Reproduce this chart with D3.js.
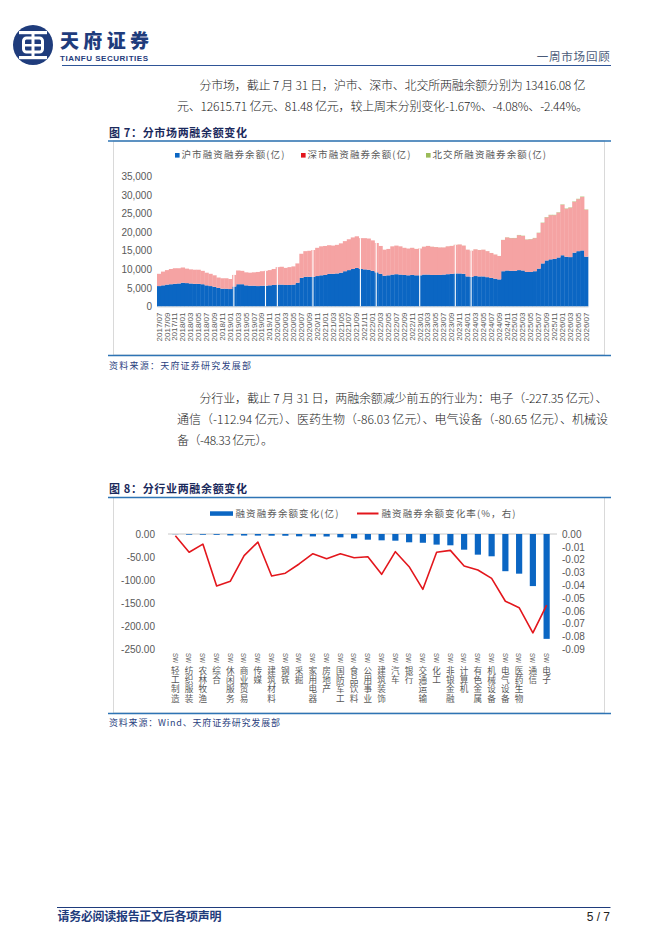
<!DOCTYPE html>
<html>
<head>
<meta charset="utf-8">
<script src="https://cdn.jsdelivr.net/npm/d3@7"></script>
<style>
  body { margin: 0; background: #fff; }
  svg { display: block; }
  text { font-family: 'Noto Sans CJK SC', 'Noto Sans', sans-serif; }
  .num { font-family: 'Liberation Sans', Arial, sans-serif; }
</style>
</head>
<body>
<svg id="page" width="662" height="936"></svg>
<script>
// ---- Figure 7: margin balance by exchange (monthly, 亿元) ----
const monthKeys = d3.utcMonth
  .range(new Date(Date.UTC(2017, 6, 1)), new Date(Date.UTC(2026, 7, 1)))
  .map(d3.utcFormat('%Y/%m'));

// 沪市融资融券余额
const shBalance = [
  5500, 5700, 5900, 6000, 6100, 6200,
  6400, 6300, 6200, 6100, 6100, 6000, 5700, 5500, 5300, 5000, 4800, 4800,
  4700, 5400, 6000, 6000, 5700, 5600, 5600, 5500, 5600, 5600, 5700, 5800,
  5900, 5900, 5800, 5800, 5900, 6400, 7700, 8000, 8000, 8000, 8200, 8400,
  8500, 8800, 8800, 8900, 9100, 9500, 9800, 10100, 10400, 10100, 10000, 9900,
  9600, 9200, 8800, 8300, 8400, 8600, 8700, 8600, 8500, 8400, 8500, 8400,
  8400, 8600, 8600, 8500, 8500, 8500, 8600, 8700, 8800, 8900, 8900, 8800,
  8100, 8000, 8200, 8100, 8100, 7900, 7700, 7500, 7300, 9500, 9700, 9600,
  9600, 9800, 9700, 9300, 9300, 9500, 10200, 11600, 12400, 12700, 12800, 13200,
  13800, 13400, 13300, 14500, 14900, 15100, 13416.08
];
// 深市融资融券余额
const szBalance = [
  3300, 3700, 3900, 4100, 4200, 4100,
  4100, 3900, 3800, 3800, 3800, 3600, 3400, 3300, 3100, 2800, 2800, 2800,
  2700, 3100, 3700, 3600, 3500, 3500, 3600, 3800, 3900, 4000, 4100, 4300,
  4700, 4800, 4600, 4800, 4900, 5200, 6500, 6900, 7000, 7200, 7600, 7800,
  7800, 7700, 7600, 7700, 7900, 8100, 8300, 8500, 8500, 8300, 8400, 8400,
  8200, 7900, 7500, 7000, 7100, 7600, 7700, 7600, 7300, 7200, 7300, 7100,
  7200, 7500, 7700, 7600, 7500, 7400, 7300, 7500, 7500, 7700, 7800, 7600,
  7200, 7000, 7200, 7100, 7200, 7000, 6700, 6500, 6300, 8400, 8900, 8800,
  8800, 9400, 9300, 8700, 8800, 8900, 9600, 10900, 11600, 11900, 11800, 12100,
  13600, 12900, 13300, 13700, 14000, 14400, 12615.71
];
// 北交所融资融券余额
const bjBalance = [
  0, 0, 0, 0, 0, 0,
  0, 0, 0, 0, 0, 0, 0, 0, 0, 0, 0, 0,
  0, 0, 0, 0, 0, 0, 0, 0, 0, 0, 0, 0,
  0, 0, 0, 0, 0, 0, 0, 0, 0, 0, 0, 0,
  0, 0, 0, 0, 0, 0, 0, 0, 0, 0, 0, 0,
  0, 0, 0, 0, 0, 0, 0, 0, 5, 6, 7, 8,
  9, 10, 11, 12, 12, 13, 13, 14, 14, 15, 15, 15,
  13, 12, 13, 13, 13, 13, 12, 12, 11, 30, 45, 50,
  55, 60, 62, 58, 60, 62, 65, 72, 78, 80, 80, 82,
  88, 85, 86, 90, 92, 95, 81.48
];
// weeks with no trading (holidays) that show as white gaps
const holidayGaps = ['2019/02', '2019/10', '2020/01', '2020/10', '2021/10', '2022/02', '2023/01', '2023/10', '2024/02'];

const seriesNames7 = ['沪市融资融券余额(亿)', '深市融资融券余额(亿)', '北交所融资融券余额(亿)'];

// ---- Figure 8: margin balance change by industry ----
const industries = [
  'SW轻工制造', 'SW纺织服装', 'SW农林牧渔', 'SW综合', 'SW休闲服务', 'SW商业贸易', 'SW传媒',
  'SW建筑材料', 'SW钢铁', 'SW采掘', 'SW家用电器', 'SW房地产', 'SW国防军工', 'SW食品饮料',
  'SW公用事业', 'SW建筑装饰', 'SW汽车', 'SW银行', 'SW交通运输', 'SW化工', 'SW非银金融',
  'SW计算机', 'SW有色金属', 'SW机械设备', 'SW电气设备', 'SW医药生物', 'SW通信', 'SW电子'
];
const balanceChange = [
  -0.4, -1.5, -1.6, -1.8, -3.2, -3.4, -3.5,
  -3.7, -3.8, -5.0, -5.2, -5.4, -7.2, -9.6,
  -12.3, -13.7, -14.5, -18.0, -19.0, -23.0, -24.5,
  -34.0, -44.8, -48.33, -80.65, -86.03, -112.94, -227.35
];
const changeRate = [
  -0.0013, -0.0142, -0.0079, -0.0405, -0.0368, -0.0169, -0.0063,
  -0.0328, -0.0306, -0.0234, -0.0154, -0.0193, -0.0154, -0.0185,
  -0.0177, -0.0315, -0.0138, -0.0255, -0.0432, -0.0143, -0.0128,
  -0.0250, -0.0281, -0.0346, -0.0525, -0.0575, -0.0772, -0.0556
];
const seriesNames8 = ['融资融券余额变化(亿)', '融资融券余额变化率(%，右)'];

const NAVY = '#1f3c7c';
const RULE = '#2e74b5';
const FRAME = '#d9d9d9';
const AXIS_TEXT = '#595959';
const BLUE = '#0b66c3';
const PINK = '#f5a3a3';
const RED = '#e3161c';
const GREEN = '#9bbb59';

const fmt = d3.formatLocale({ decimal: '.', thousands: ',', grouping: [3], currency: ['', ''], minus: '-' });

const svg = d3.select('#page');

// ---------- page header ----------
const logo = svg.append('g');
logo.append('circle').attr('cx', 33).attr('cy', 45).attr('r', 20).attr('fill', NAVY);
logo.append('rect').attr('x', 19).attr('y', 31).attr('width', 28).attr('height', 3.2).attr('fill', '#fff');
logo.append('rect').attr('x', 19).attr('y', 56).attr('width', 28).attr('height', 3.2).attr('fill', '#fff');
logo.append('rect').attr('x', 23.5).attr('y', 38).attr('width', 19).attr('height', 14)
  .attr('rx', 3).attr('fill', 'none').attr('stroke', '#fff').attr('stroke-width', 3);
logo.append('rect').attr('x', 31.5).attr('y', 34).attr('width', 3).attr('height', 22).attr('fill', '#fff');
logo.append('rect').attr('x', 23.5).attr('y', 44).attr('width', 19).attr('height', 2.5).attr('fill', '#fff');

svg.append('text').attr('x', 60).attr('y', 47.5).attr('font-size', 19).attr('font-weight', 900)
  .attr('fill', NAVY).attr('textLength', 89).text('天府证券');
svg.append('text').attr('class', 'num').attr('x', 60).attr('y', 60.5).attr('font-size', 8)
  .attr('font-weight', 700).attr('fill', NAVY).attr('textLength', 88).text('TIANFU SECURITIES');
svg.append('text').attr('x', 610.5).attr('y', 61).attr('text-anchor', 'end').attr('font-size', 11.5)
  .attr('fill', '#4a5a78').attr('letter-spacing', 0.8).text('一周市场回顾');
svg.append('line').attr('x1', 62).attr('x2', 611).attr('y1', 65.5).attr('y2', 65.5)
  .attr('stroke', '#2f5597').attr('stroke-width', 1.2);

function paragraph(lines) {
  lines.forEach(([txt, x, y, len]) => {
    svg.append('text').attr('x', x).attr('y', y).attr('font-size', 12).attr('font-weight', 300)
      .attr('fill', '#222').attr('textLength', len).attr('lengthAdjust', 'spacing').text(txt);
  });
}

paragraph([
  ['分市场，截止 7 月 31 日，沪市、深市、北交所两融余额分别为 13416.08 亿', 199.5, 90, 386],
  ['元、12615.71 亿元、81.48 亿元，较上周末分别变化-1.67%、-4.08%、-2.44%。', 177, 111, 411],
]);

function figureTitle(txt, y, len) {
  svg.append('text').attr('x', 109).attr('y', y).attr('font-size', 11).attr('font-weight', 700)
    .attr('fill', '#1b2a5c').attr('textLength', len).attr('lengthAdjust', 'spacing').text(txt);
}

function frame(top, bottom) {
  svg.append('rect').attr('x', 113.5).attr('y', top).attr('width', 491).attr('height', bottom - top)
    .attr('fill', 'none').attr('stroke', FRAME).attr('stroke-width', 1);
  svg.append('line').attr('x1', 108).attr('x2', 611).attr('y1', top).attr('y2', top)
    .attr('stroke', RULE).attr('stroke-width', 1.5);
  svg.append('line').attr('x1', 108).attr('x2', 611).attr('y1', bottom + 0.5).attr('y2', bottom + 0.5)
    .attr('stroke', RULE).attr('stroke-width', 1.5);
}

function source(txt, y, len) {
  svg.append('text').attr('x', 109).attr('y', y).attr('font-size', 9).attr('fill', '#2b3f80')
    .attr('textLength', len).attr('lengthAdjust', 'spacing').text(txt);
}

// ---------- Figure 7 ----------
figureTitle('图 7：分市场两融余额变化', 137, 138);
frame(141, 355);

const rows7 = monthKeys.map((m, i) => ({ month: m, sh: shBalance[i], sz: szBalance[i], bj: bjBalance[i] }));
const stack7 = d3.stack().keys(['sh', 'sz', 'bj'])(rows7);

const x7 = d3.scaleBand().domain(monthKeys).range([157, 588]).padding(0);
const y7 = d3.scaleLinear().domain([0, 35000]).range([306.5, 176.5]);
const fill7 = { sh: BLUE, sz: PINK, bj: GREEN };

const g7 = svg.append('g');
g7.selectAll('g.layer').data(stack7).join('g')
  .attr('class', 'layer')
  .attr('fill', (d) => fill7[d.key])
  .selectAll('rect').data((d) => d).join('rect')
  .attr('x', (d) => x7(d.data.month))
  .attr('width', x7.bandwidth() + 0.35)
  .attr('y', (d) => y7(d[1]))
  .attr('height', (d) => y7(d[0]) - y7(d[1]));

// holiday gaps drawn as thin white slots through the stack
const stackTop = (m) => {
  const i = monthKeys.indexOf(m);
  return shBalance[i] + szBalance[i] + bjBalance[i];
};
g7.selectAll('rect.gap').data(holidayGaps).join('rect')
  .attr('class', 'gap')
  .attr('x', (m) => x7(m) + x7.bandwidth() * 0.3)
  .attr('width', 1.1)
  .attr('y', (m) => y7(stackTop(m)))
  .attr('height', (m) => y7(0) - y7(stackTop(m)))
  .attr('fill', '#fff');

const yAxis7 = g7.append('g').attr('transform', 'translate(159,0)')
  .call(d3.axisLeft(y7).ticks(7).tickSize(0).tickPadding(7).tickFormat(fmt.format(',')));
yAxis7.select('.domain').remove();
yAxis7.selectAll('text').attr('class', 'num').attr('font-size', 10).attr('fill', AXIS_TEXT);

const xAxis7 = g7.append('g').attr('transform', 'translate(0,306.5)')
  .call(d3.axisBottom(x7).tickValues(monthKeys.filter((d, i) => i % 2 === 0)).tickSize(0));
xAxis7.select('.domain').attr('stroke', FRAME);
xAxis7.selectAll('text')
  .attr('class', 'num')
  .attr('font-size', 8)
  .attr('fill', AXIS_TEXT)
  .attr('transform', 'rotate(-90)')
  .attr('text-anchor', 'end')
  .attr('x', -6)
  .attr('y', 0)
  .attr('dy', '0.33em');

// legend 7
const legendX7 = [175, 301, 426];
const legendColor7 = [BLUE, RED, GREEN];
const leg7 = g7.selectAll('g.leg').data(seriesNames7).join('g')
  .attr('class', 'leg')
  .attr('transform', (d, i) => `translate(${legendX7[i]},153)`);
leg7.append('rect').attr('width', 4.6).attr('height', 4.6).attr('fill', (d, i) => legendColor7[i]);
leg7.append('text').attr('x', 6.5).attr('y', 5.2).attr('font-size', 9.5).attr('fill', AXIS_TEXT)
  .attr('letter-spacing', 1.1).text((d) => d);

source('资料来源：天府证券研究发展部', 369, 142);

// ---------- paragraph 2 ----------
paragraph([
  ['分行业，截止 7 月 31 日，两融余额减少前五的行业为：电子（-227.35 亿元）、', 199.5, 403, 408],
  ['通信（-112.94 亿元）、医药生物（-86.03 亿元）、电气设备（-80.65 亿元）、机械设', 177, 424, 431],
  ['备（-48.33 亿元）。', 177, 445, 96],
]);

// ---------- Figure 8 ----------
figureTitle('图 8：分行业两融余额变化', 493, 138);
frame(497.5, 713);

const x8 = d3.scaleBand().domain(industries).range([168.5, 553.5]).paddingInner(0.55).paddingOuter(0.275);
const yL8 = d3.scaleLinear().domain([-250, 0]).range([649.3, 534]);
const yR8 = d3.scaleLinear().domain([-0.09, 0]).range([649.3, 534]);
const g8 = svg.append('g');

g8.append('line').attr('x1', 168).attr('x2', 557).attr('y1', yL8(0)).attr('y2', yL8(0))
  .attr('stroke', '#c8c8c8').attr('stroke-width', 1);

g8.selectAll('rect.bar').data(industries).join('rect')
  .attr('class', 'bar')
  .attr('x', (d) => x8(d))
  .attr('width', x8.bandwidth())
  .attr('y', yL8(0))
  .attr('height', (d, i) => yL8(balanceChange[i]) - yL8(0))
  .attr('fill', BLUE);

const rateLine = d3.line()
  .x((d, i) => x8(industries[i]) + x8.bandwidth() / 2)
  .y((d) => yR8(d));
g8.append('path').datum(changeRate).attr('d', rateLine)
  .attr('fill', 'none').attr('stroke', RED).attr('stroke-width', 1.6).attr('stroke-linejoin', 'round');

const yAxisL8 = g8.append('g').attr('transform', 'translate(168,0)')
  .call(d3.axisLeft(yL8).ticks(5).tickSize(0).tickPadding(13).tickFormat(fmt.format('.2f')));
yAxisL8.select('.domain').remove();
yAxisL8.selectAll('text').attr('class', 'num').attr('font-size', 10).attr('fill', AXIS_TEXT);

const yAxisR8 = g8.append('g').attr('transform', 'translate(557,0)')
  .call(d3.axisRight(yR8).ticks(10).tickSize(0).tickPadding(5).tickFormat(fmt.format('.2f')));
yAxisR8.select('.domain').remove();
yAxisR8.selectAll('text').attr('class', 'num').attr('font-size', 10).attr('fill', AXIS_TEXT);

// vertical category labels: "SW" turned sideways, Chinese characters stacked upright below it
const CAT_FS = 8.6;
const CAT_STEP = 9.2;
const cat = g8.selectAll('g.cat').data(industries).join('g')
  .attr('class', 'cat')
  .attr('transform', (d) => `translate(${x8(d) + x8.bandwidth() / 2},653)`);
cat.append('text')
  .attr('class', 'num')
  .attr('transform', 'rotate(90)')
  .attr('dy', '0.36em')
  .attr('font-size', 7.5)
  .attr('textLength', 10)
  .attr('lengthAdjust', 'spacingAndGlyphs')
  .attr('fill', AXIS_TEXT)
  .text((d) => d.slice(0, 2));
cat.append('text')
  .attr('class', 'ch')
  .attr('text-anchor', 'middle')
  .attr('x', (d) => Array.from(d.slice(2)).map(() => 0).join(' '))
  .attr('y', (d) => Array.from(d.slice(2)).map((c, k) => 21 + k * CAT_STEP).join(' '))
  .attr('font-size', CAT_FS)
  .attr('fill', AXIS_TEXT)
  .text((d) => d.slice(2));

// legend 8
const leg8 = g8.append('g');
leg8.append('rect').attr('x', 210).attr('y', 511.3).attr('width', 23).attr('height', 4.5).attr('fill', BLUE);
leg8.append('text').attr('x', 235.5).attr('y', 516.8).attr('font-size', 9.5).attr('fill', AXIS_TEXT)
  .attr('letter-spacing', 1.1).text(seriesNames8[0]);
leg8.append('line').attr('x1', 357).attr('x2', 378.5).attr('y1', 513.5).attr('y2', 513.5)
  .attr('stroke', RED).attr('stroke-width', 2);
leg8.append('text').attr('x', 381.5).attr('y', 516.8).attr('font-size', 9.5).attr('fill', AXIS_TEXT)
  .attr('letter-spacing', 1.1).text(seriesNames8[1]);

source('资料来源：Wind、天府证券研究发展部', 726, 171);

// ---------- footer ----------
svg.append('line').attr('x1', 57).attr('x2', 610.5).attr('y1', 907.5).attr('y2', 907.5)
  .attr('stroke', NAVY).attr('stroke-width', 1.2);
svg.append('text').attr('x', 57.5).attr('y', 921).attr('font-size', 12).attr('font-weight', 700)
  .attr('fill', NAVY).attr('textLength', 164).text('请务必阅读报告正文后各项声明');
svg.append('text').attr('class', 'num').attr('x', 610).attr('y', 921).attr('text-anchor', 'end')
  .attr('font-size', 12).attr('fill', '#222').text('5 / 7');
</script>
</body>
</html>
